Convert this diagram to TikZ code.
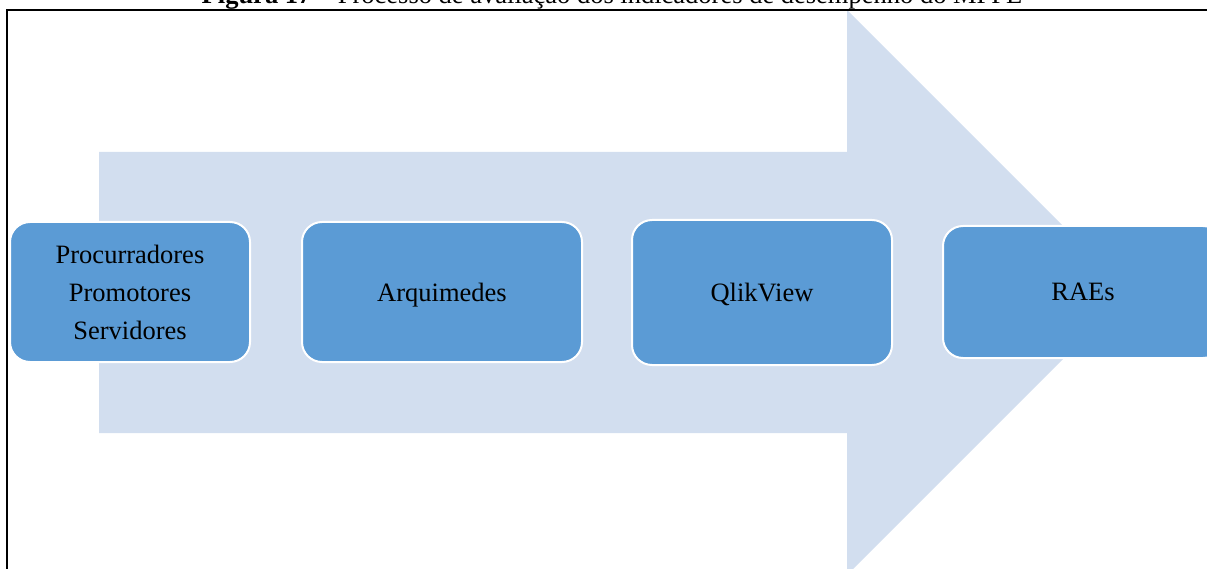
\documentclass[tikz,border=0pt]{standalone}
\usepackage{fontspec}
\setmainfont{Liberation Serif}
\usepackage{tikz}
\usetikzlibrary{calc}
\definecolor{setafundo}{HTML}{D2DEEF}
\definecolor{caixaazul}{HTML}{5B9BD5}

\begin{document}
\begin{tikzpicture}[x=1pt,y=-1pt,
  etapa/.style={draw=white,line width=2pt,fill=caixaazul,rounded corners=20pt,
    align=center,inner sep=0pt,font=\fontsize{26.5}{38}\selectfont},
  umalinha/.style={etapa,text depth=0pt},
  moldura/.style={draw=black,line width=1.5pt}]
\useasboundingbox (0,0) rectangle (1207,569);
% seta de fundo
\fill[setafundo] (99,152) -- (847,152) -- (847,10) -- (1129.5,292.5)
  -- (847,575) -- (847,433) -- (99,433) -- cycle;
% moldura e titulo
\draw[moldura] (1207,10) -- (7,10) -- (7,569);
\node[anchor=base,font=\fontsize{26.5}{30}\selectfont] (titulo) at (612,4)
  {\textbf{Figura 17} -- Processo de avaliação dos indicadores de desempenho do MPPE};
% etapas
\node[etapa,minimum width=240pt,minimum height=140pt] (pessoas) at (130,292)
  {Procurradores\\Promotores\\Servidores};
\node[umalinha,minimum width=280pt,minimum height=140pt] (arquimedes) at (442,292) {Arquimedes};
\node[umalinha,minimum width=260pt,minimum height=145pt] (qlikview) at (762,292.5) {QlikView};
\node[umalinha,minimum width=280pt,minimum height=132pt] (raes) at (1083,292) {RAEs};
\end{tikzpicture}
\end{document}
